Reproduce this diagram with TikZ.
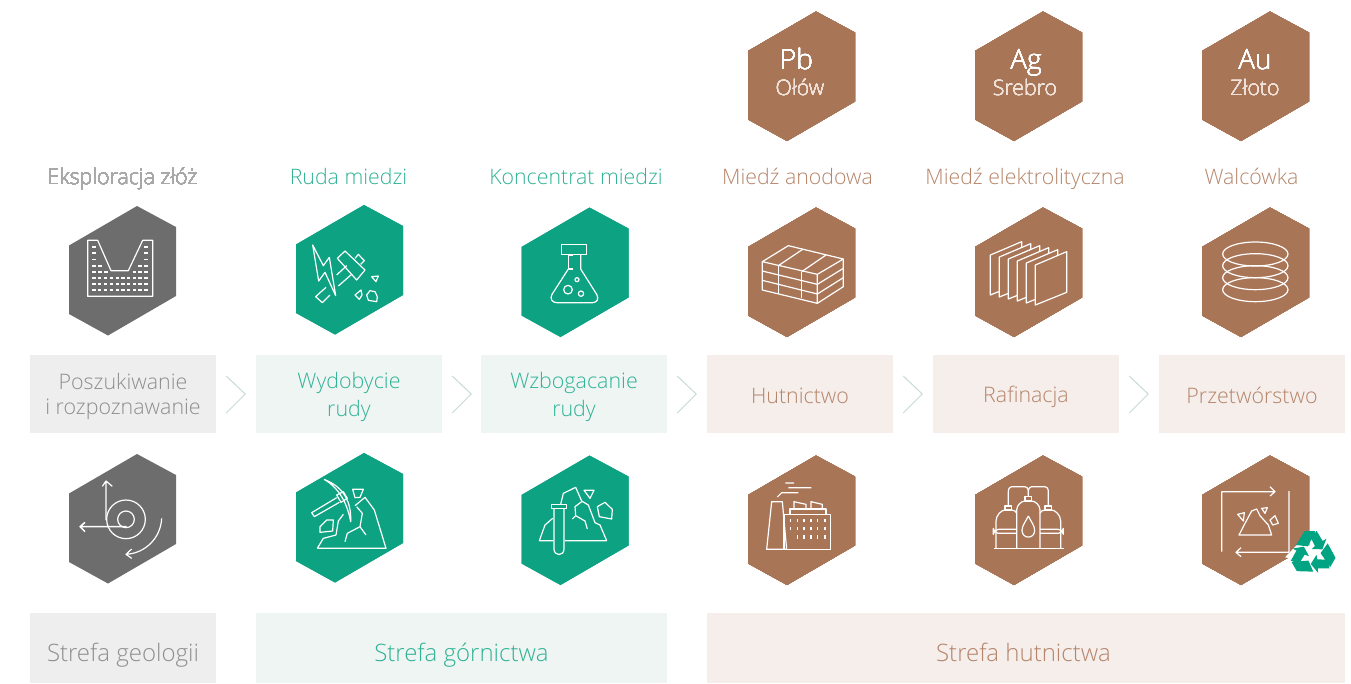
\documentclass[tikz,border=0pt]{standalone}
\usepackage{fontspec}
\setmainfont{Open Sans Light}
\definecolor{geogray}{HTML}{6D6D6D}
\definecolor{minegreen}{HTML}{0CA282}
\definecolor{smeltbrown}{HTML}{A97557}
\definecolor{geobox}{HTML}{EEEEEE}
\definecolor{minebox}{HTML}{EFF5F3}
\definecolor{smeltbox}{HTML}{F5EEEB}
\definecolor{geotext}{HTML}{8E8E8E}
\definecolor{geolabel}{HTML}{A8A8A8}
\definecolor{minetext}{HTML}{2FB295}
\definecolor{smelttext}{HTML}{B5846A}
\definecolor{metaltext}{HTML}{F0E2D9}
\definecolor{chevron}{HTML}{C6DBD6}
\definecolor{recycle}{HTML}{00A382}
\tikzset{
  stagebox/.style={minimum width=186pt, minimum height=78pt, inner sep=0pt, align=center, font=\fontsize{21.4}{25}\selectfont},
  zonebox/.style={minimum height=70pt, inner sep=0pt, text height=32pt, text depth=6pt, font=\fontsize{24}{28}\selectfont},
  product/.style={inner sep=0pt, anchor=base, font=\fontsize{21.3}{24}\selectfont},
  icon/.style={white, line width=1.2pt, line join=round},
}
\newcommand{\hexa}[3]{\fill[#3] (#1,#2) ++(14.5,-64.5) -- ++(39,21) -- ++(0,69) -- ++(-68,39.5) -- ++(-39,-21.5) -- ++(0,-68.5) -- cycle;}
\newcommand{\stagestrut}{\vrule height 21.5pt depth 3.5pt width 0pt\relax}
\begin{document}
\begin{tikzpicture}[x=1pt,y=-1pt]
\useasboundingbox (0,0) rectangle (1351,683);
% hexagons
\foreach \x/\y in {122.5/270.5,122.5/518.5} \hexa{\x}{\y}{geogray}
\foreach \x/\y in {349.5/269.5,575/272,349.5/517.5,575/520} \hexa{\x}{\y}{minegreen}
\foreach \x/\y in {801.5/76,1028.5/76,1255.5/76,801.5/272,1028.5/272,1255.5/272,801.5/520,1028.5/520,1255.5/520} \hexa{\x}{\y}{smeltbrown}
% metals
\foreach \x/\u/\n/\s/\t in {796.5/800/pb/Pb/Ołów,1026/1025/ag/Ag/Srebro,1255/1255/au/Au/Złoto} {
  \node[white, inner sep=0pt, anchor=base, font=\fontsize{28}{30}\selectfont] (\n) at (\x,69) {\s};
  \node[metaltext, inner sep=0pt, anchor=base, font=\fontsize{21.3}{24}\selectfont] (\n text) at (\u,95) {\t};
}
% products
\node[product, text=geolabel] (zloza) at (122.5,184.5) {Eksploracja złóż};
\node[product, text=minetext] (ruda) at (348.5,184.5) {Ruda miedzi};
\node[product, text=minetext] (koncentrat) at (576,184.5) {Koncentrat miedzi};
\node[product, text=smelttext] (anoda) at (797.5,184.5) {Miedź anodowa};
\node[product, text=smelttext] (katoda) at (1025,184.5) {Miedź elektrolityczna};
\node[product, text=smelttext] (walcowka) at (1251.5,184.5) {Walcówka};
% stages
\node[stagebox, fill=geobox, text=geotext] (poszukiwanie) at (123,394) {\stagestrut Poszukiwanie\\\stagestrut i rozpoznawanie};
\node[stagebox, fill=minebox, text=minetext] (wydobycie) at (349,394) {\stagestrut Wydobycie\\\stagestrut rudy};
\node[stagebox, fill=minebox, text=minetext] (wzbogacanie) at (574,394) {\stagestrut Wzbogacanie\\\stagestrut rudy};
\node[stagebox, fill=smeltbox, text=smelttext] (hutnictwo) at (800,394) {\stagestrut Hutnictwo};
\node[stagebox, fill=smeltbox, text=smelttext] (rafinacja) at (1026,394) {\stagestrut Rafinacja};
\node[stagebox, fill=smeltbox, text=smelttext] (przetworstwo) at (1252,394) {\stagestrut Przetwórstwo};
\foreach \a in {poszukiwanie,wydobycie,wzbogacanie,hutnictwo,rafinacja}
  \draw[chevron, line width=1pt] (\a.east) ++(10,-18) -- ++(19,18) -- ++(-19,19);
% zones
\node[zonebox, fill=geobox, text=geotext, minimum width=186pt] (geologia) at (123,648) {Strefa geologii};
\node[zonebox, fill=minebox, text=minetext, minimum width=411pt] (gornictwo) at (461.5,648) {Strefa górnictwa};
\node[zonebox, fill=smeltbox, text=smelttext, minimum width=638pt] (hutnicza) at (1026,648) {\hspace{-5pt}Strefa hutnictwa};
% deposit
\begin{scope}[shift={(40,195)},scale=1/3,icon]
\draw (143,136) -- (173,136) -- (213,227) -- (265,227) -- (308,136) -- (338,136) -- (338,304) -- (143,304) -- cycle;
\foreach \y in {155,174,193,212,230,248,266,284} \foreach \x in {162,318} \fill (\x-5,\y-2.5) rectangle (\x+5,\y+2.5);
\foreach \x in {180,300} \fill (\x-5,209.5) rectangle (\x+5,214.5);
\foreach \x in {180,198,283,300} \fill (\x-5,227.5) rectangle (\x+5,232.5);
\foreach \y in {248,266,284} \foreach \x in {179,197,214,232,249,266,283,300} \fill (\x-5,\y-2.5) rectangle (\x+5,\y+2.5);
% hammer
\draw (818,150) -- (850,212) -- (868,187) -- (887,302) -- (855,232) -- (836,258) -- cycle;
\draw (858,277) -- (827,305) -- (847,323) -- (870,300);
\draw (892,190) -- (915,168) -- (975,225) -- (950,255) -- cycle;
\draw (945,190) -- (955,178) -- (973,197) -- (962,208);
\draw (890,240) -- (920,212) (895,273) -- (935,238);
\draw (995,245) -- (1015,243) -- (1008,260) -- cycle;
\draw (945,300) -- (963,285) -- (966,300) -- (958,313) -- cycle;
\draw (990,287) -- (1005,290) -- (1012,305) -- (1010,320) -- (985,316) -- (980,300) -- cycle;
\end{scope}
% flask, bricks
\begin{scope}[shift={(500,195)},scale=1/3,icon]
\draw (185,148) rectangle (260,179);
\draw (220,180) -- (205,180) -- (205,222) -- (220,222);
\draw (242,179) -- (242,222) -- (290,298) .. controls (298,312) and (290,323) .. (278,323) -- (170,323) .. controls (158,323) and (148,312) .. (156,298) -- (205,222);
\draw (204,284) circle [radius=13];
\draw (243,296) circle [radius=8];
\draw (231,254) circle [radius=6];
\draw (787,200) -- (865,152) -- (1030,192) -- (952,238) -- cycle;
\draw (787,200) -- (787,285) -- (952,325) -- (952,238);
\draw (952,325) -- (1030,275) -- (1030,192);
\draw (787,228) -- (952,268) -- (1030,220);
\draw (787,256) -- (952,297) -- (1030,248);
\draw (835,212) -- (908,163) (905,230) -- (978,180);
\draw (835,212) -- (835,297) (905,230) -- (905,310);
\end{scope}
% plates, coil
\begin{scope}[shift={(960,195)},scale=1/3,icon]
\foreach \i in {0,...,5}
  \filldraw[fill=smeltbrown] (91+27*\i,180+6*\i) -- (185+27*\i,140+6*\i) -- (185+27*\i,262+6*\i) -- (91+27*\i,300+6*\i) -- cycle;
\foreach \y in {177,212,248,284}
  \draw (886,\y) ellipse [x radius=98, y radius=36];
\end{scope}
% prospecting, pick
\begin{scope}[shift={(50,445)},scale=1/3,icon]
\draw (168,225) -- (168,108) (157,124) -- (168,108) -- (187,124);
\draw[line width=1.5pt] (230,245) -- (90,245) (105,232) -- (90,245) -- (105,260);
\draw (228,223) circle [radius=25];
\draw (228,223) circle [radius=58];
\draw (335,220) .. controls (332,280) and (285,325) .. (228,328) (245,312) -- (228,328) -- (245,340);
\draw (822,103) .. controls (880,125) and (905,170) .. (902,230) .. controls (893,180) and (870,130) .. (822,103);
\draw (860,150) -- (880,140) -- (892,160) -- (873,172) -- cycle;
\draw (860,158) -- (785,203) -- (793,215) -- (868,172);
\draw (802,310) -- (1008,310) -- (973,195) -- (945,157) -- (915,182);
\draw (802,310) -- (820,280) -- (858,270) -- (865,228) -- (880,208);
\draw (885,290) -- (892,265) -- (930,245) -- (937,205) -- (920,185) (930,245) -- (948,270);
\draw (810,245) -- (830,225) -- (850,225) -- (848,258) -- (810,262) -- cycle;
\draw (908,133) -- (940,133) -- (930,157) -- (915,158) -- cycle;
\end{scope}
% tube, factory
\begin{scope}[shift={(510,445)},scale=1/3,icon]
\draw (130,287) -- (88,287) -- (105,240) -- (128,220);
\draw (165,287) -- (290,287) -- (270,240) -- (255,233) -- (235,180) -- (215,168) -- (197,127) -- (160,145) -- (152,178);
\draw (215,170) -- (195,185) -- (197,212) -- (225,228) -- (232,252) (197,212) -- (187,222);
\draw (124,178) rectangle (170,190);
\draw (132,190) -- (132,312) .. controls (132,334) and (162,334) .. (162,312) -- (162,190);
\draw (222,136) -- (252,136) -- (240,160) -- cycle;
\draw (262,185) -- (285,172) -- (307,193) -- (305,222) -- (268,215) -- cycle;
\draw (770,313) -- (785,170) -- (817,170) -- (830,313) -- cycle;
\draw (822,208) rectangle (962,313);
\draw (840,208) -- (840,192) -- (948,192) -- (948,208);
\draw (852,192) -- (852,170) -- (888,178) -- (888,192);
\draw (903,192) -- (903,170) -- (937,178) -- (937,192);
\draw (826,114) -- (852,114) (835,128) -- (904,128) (802,156) -- (815,143) -- (865,143);
\foreach \x in {841,862,882,903,923,945} \draw (\x,222) -- (\x,232) (\x,245) -- (\x,256);
\foreach \x in {862,882,903,923,945} \draw (\x,270) -- (\x,281);
\end{scope}
% refinery, recycling
\begin{scope}[shift={(960,445)},scale=1/3,icon]
\draw[line width=1.5pt] (102,310) -- (312,310);
\draw (108,310) -- (108,228) .. controls (108,210) and (125,195) .. (135,195) -- (155,195) .. controls (162,195) and (170,200) .. (170,205);
\draw (302,310) -- (302,228) .. controls (302,210) and (285,195) .. (275,195) -- (255,195) .. controls (248,195) and (240,200) .. (240,205);
\draw (170,310) -- (170,195) .. controls (170,180) and (185,168) .. (195,168) -- (215,168) .. controls (225,168) and (240,180) .. (240,195) -- (240,310);
\draw[rounded corners=5pt] (170,253) -- (100,253) -- (100,265) -- (170,265) (240,253) -- (310,253) -- (310,265) -- (240,265);
\draw (135,183) rectangle (155,195) (195,155) rectangle (215,168) (255,183) rectangle (275,195);
\draw (145,183) -- (145,140) .. controls (145,130) and (150,125) .. (155,125) -- (195,125) .. controls (200,125) and (205,130) .. (205,140) -- (205,155);
\draw (205,140) .. controls (205,130) and (210,125) .. (215,125) -- (255,125) .. controls (260,125) and (265,130) .. (265,140) -- (265,183);
\draw (205,213) .. controls (212,228) and (224,242) .. (224,256) .. controls (224,283) and (186,283) .. (186,256) .. controls (186,242) and (198,228) .. (205,213);
\draw (785,320) -- (785,140) -- (945,140) (930,125) -- (945,140) -- (930,153);
\draw (987,138) -- (987,322) -- (828,322) (843,308) -- (828,322) -- (843,335);
\draw (837,270) -- (855,235) -- (875,198) -- (890,192) -- (900,212) -- (925,240) -- (935,270) -- cycle;
\draw (833,208) -- (853,203) -- (850,228) -- cycle;
\draw (905,190) -- (922,188) -- (915,205) -- cycle;
\draw (930,225) -- (945,212) -- (955,235) -- (938,240) -- cycle;
\end{scope}
% recycling sign
\begin{scope}[shift={(1280,525)},scale=1/3]
\fill[white] (88,22) -- (30,81) -- (15,97) -- (88,110) -- cycle;
\foreach \r in {0,120,240}
  \fill[recycle, rotate around={\r:(97,85)}] (48,60) -- (74,18) -- (106,18) -- (84,64) -- cycle
    (110,18) -- (128,48) -- (139,41) -- (127,73) -- (95,72) -- (105,63) -- (92,38) -- cycle;
\end{scope}
\end{tikzpicture}
\end{document}
